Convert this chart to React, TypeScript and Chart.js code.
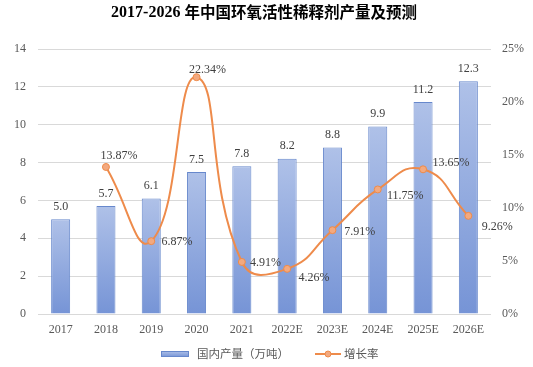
import React, { useEffect, useRef } from "react";
import { Chart, registerables } from "chart.js";

Chart.register(...registerables);

const categories = ["2017", "2018", "2019", "2020", "2021", "2022E", "2023E", "2024E", "2025E", "2026E"];
const production = [5.0, 5.7, 6.1, 7.5, 7.8, 8.2, 8.8, 9.9, 11.2, 12.3];
const growthRate: (number | null)[] = [null, 13.87, 6.87, 22.34, 4.91, 4.26, 7.91, 11.75, 13.65, 9.26];
const titleYears = "2017-2026 ";
const titleText = "年中国环氧活性稀释剂产量及预测";
const barLegend = "国内产量（万吨）";
const lineLegend = "增长率";

// label placement (pixel offsets of the growth labels from their points)
const growthLabelOffsets: [number, number][] = [
  [0, 0], [13, -11.5], [25.7, 1], [11, -7], [23.7, 1.3], [26.8, 8.5], [27.3, 2], [27.5, 6], [28, -6.5], [29, 11],
];

const SERIF = "'Liberation Serif', 'Times New Roman', serif";
const CJK = "'Noto Sans CJK SC', sans-serif";
const LINE_COLOR = "#EE8B4B";
const POINT_FILL = "#F3A97F";
const BAR_TOP = "#AFC1E8";
const BAR_BOTTOM = "#7694D6";
const BAR_BORDER = "#6788CC";

function barGradient(ctx: CanvasRenderingContext2D, top: number, bottom: number) {
  if (!isFinite(top) || !isFinite(bottom) || top === bottom) return BAR_BOTTOM as any;
  const g = ctx.createLinearGradient(0, top, 0, bottom);
  g.addColorStop(0, BAR_TOP);
  g.addColorStop(1, BAR_BOTTOM);
  return g;
}

const decorPlugin = {
  id: "decor",
  afterDatasetsDraw(chart: any) {
    const ctx: CanvasRenderingContext2D = chart.ctx;
    ctx.save();
    const barMeta = chart.getDatasetMeta(1);
    ctx.font = `12px ${SERIF}`;
    ctx.fillStyle = "#404040";
    ctx.textAlign = "center";
    ctx.textBaseline = "middle";
    barMeta.data.forEach((el: any, i: number) => {
      ctx.fillText(production[i].toFixed(1), el.x, el.y - 12.5);
    });
    const lineMeta = chart.getDatasetMeta(0);
    lineMeta.data.forEach((el: any, i: number) => {
      const v = growthRate[i];
      if (v == null) return;
      const [dx, dy] = growthLabelOffsets[i];
      ctx.fillText(v.toFixed(2) + "%", el.x + dx, el.y + dy);
    });
    ctx.restore();
  },
  afterDraw(chart: any) {
    const ctx: CanvasRenderingContext2D = chart.ctx;
    ctx.save();
    ctx.textBaseline = "middle";
    ctx.textAlign = "left";
    ctx.fillStyle = "#000000";
    ctx.font = `bold 16px ${SERIF}`;
    const w1 = ctx.measureText(titleYears).width;
    ctx.font = `bold 15.5px ${CJK}`;
    const w2 = ctx.measureText(titleText).width;
    const total = w1 + w2;
    const x0 = 264 - total / 2;
    ctx.font = `bold 16px ${SERIF}`;
    ctx.fillText(titleYears, x0, 12.5);
    ctx.font = `bold 15.5px ${CJK}`;
    ctx.fillText(titleText, x0 + w1, 12);

    ctx.font = `11.5px ${CJK}`;
    const ly = 354;
    const bx = 161;
    ctx.fillStyle = barGradient(ctx, ly - 3, ly + 3);
    ctx.fillRect(bx, ly - 3, 28, 6);
    ctx.strokeStyle = BAR_BORDER;
    ctx.lineWidth = 1;
    ctx.strokeRect(bx + 0.5, ly - 2.5, 27, 5);
    ctx.fillStyle = "#595959";
    ctx.fillText(barLegend, 197, ly);
    const lx = 315;
    ctx.strokeStyle = LINE_COLOR;
    ctx.lineWidth = 2;
    ctx.beginPath();
    ctx.moveTo(lx, ly);
    ctx.lineTo(lx + 26, ly);
    ctx.stroke();
    ctx.beginPath();
    ctx.arc(lx + 13, ly, 3, 0, Math.PI * 2);
    ctx.fillStyle = POINT_FILL;
    ctx.fill();
    ctx.lineWidth = 1;
    ctx.stroke();
    ctx.fillStyle = "#595959";
    ctx.fillText(lineLegend, 344, ly);
    ctx.restore();
  },
};

export default function App() {
  const ref = useRef<HTMLCanvasElement>(null);
  useEffect(() => {
    if (!ref.current) return;
    const chart = new Chart(ref.current, {
      type: "bar",
      data: {
        labels: categories,
        datasets: [
          {
            type: "line",
            label: lineLegend,
            data: growthRate,
            yAxisID: "y1",
            borderColor: LINE_COLOR,
            borderWidth: 2,
            backgroundColor: POINT_FILL,
            pointBackgroundColor: POINT_FILL,
            pointBorderColor: LINE_COLOR,
            pointBorderWidth: 1,
            pointRadius: 3.5,
            tension: 0.5,
            spanGaps: false,
            order: 0,
          } as any,
          {
            type: "bar",
            label: barLegend,
            data: production,
            yAxisID: "y",
            backgroundColor: (c: any) => {
              const chartObj = c.chart;
              const ys = chartObj.scales?.y;
              if (!ys || c.dataIndex == null || c.raw == null) return BAR_BOTTOM;
              return barGradient(chartObj.ctx, ys.getPixelForValue(c.raw), ys.getPixelForValue(0));
            },
            borderColor: BAR_BORDER,
            borderWidth: 1,
            barPercentage: 0.42,
            categoryPercentage: 1,
            order: 1,
          } as any,
        ],
      },
      options: {
        animation: false,
        responsive: false,
        layout: { padding: { top: 49, bottom: 28, left: 0, right: 0 } },
        plugins: {
          legend: { display: false },
          title: { display: false },
          tooltip: { enabled: false },
        },
        scales: {
          x: {
            grid: { display: false },
            border: { display: false },
            ticks: { font: { family: SERIF, size: 12 }, color: "#595959", padding: 1, maxRotation: 0 },
            afterFit: (s: any) => { s.height = 25; },
          },
          y: {
            position: "left",
            min: 0,
            max: 14,
            ticks: { stepSize: 2, font: { family: SERIF, size: 12 }, color: "#595959", padding: 12 },
            grid: { color: "#D9D9D9", drawTicks: false, lineWidth: 1 },
            border: { display: false },
            afterFit: (s: any) => { s.width = 38; },
          },
          y1: {
            position: "right",
            min: 0,
            max: 25,
            ticks: {
              stepSize: 5,
              font: { family: SERIF, size: 12 },
              color: "#595959",
              padding: 11,
              callback: (v: any) => v + "%",
            },
            grid: { display: false, drawTicks: false },
            border: { display: false },
            afterFit: (s: any) => { s.width = 42; },
          },
        },
      },
      plugins: [decorPlugin],
    });
    return () => chart.destroy();
  }, []);
  return (
    <div style={{ position: "absolute", left: 0, top: 0, width: 533, height: 367, background: "#fff" }}>
      <canvas ref={ref} width={533} height={367} style={{ width: 533, height: 367 }} />
    </div>
  );
}
